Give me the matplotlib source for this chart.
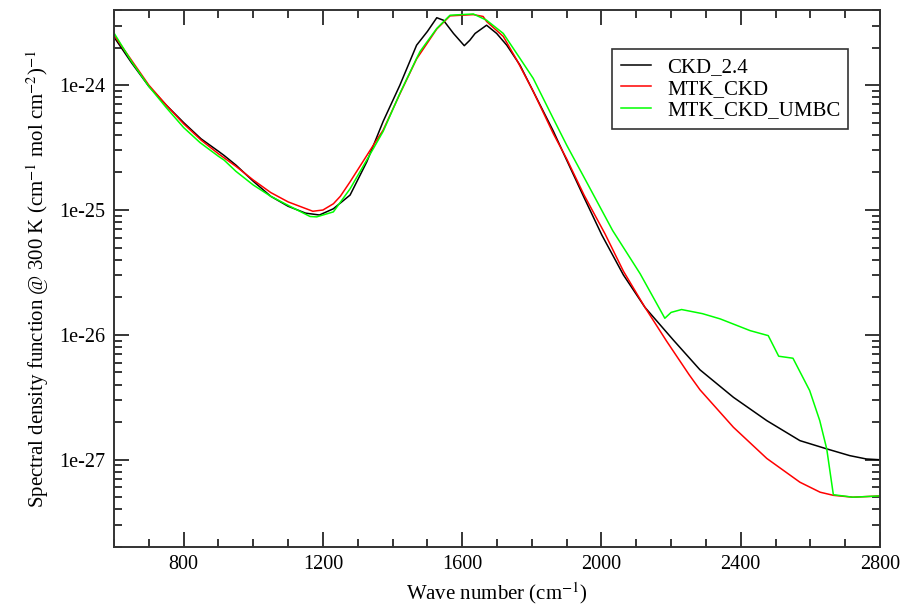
import numpy as np
import matplotlib
matplotlib.use("Agg")
import matplotlib.pyplot as plt
from matplotlib.ticker import FixedLocator, FixedFormatter, MultipleLocator, NullFormatter

plt.rcParams['font.family'] = ['Liberation Serif', 'DejaVu Serif']
plt.rcParams['mathtext.fontset'] = 'stix'

# ---------------- data (log10 of spectral density) ----------------
ckd_wn = [600, 650, 700, 750, 800, 850, 900, 916, 950, 1000, 1050, 1100, 1150, 1190,
          1230, 1278, 1326, 1373, 1421, 1469, 1500, 1527, 1546, 1575, 1606, 1622, 1637,
          1670, 1699, 1728, 1766, 1804, 1862, 1900, 1950, 2001, 2063, 2125, 2206, 2283,
          2379, 2475, 2570, 2647, 2713, 2761, 2800]
ckd_log = [-23.615, -23.82, -24.01, -24.16, -24.30, -24.43, -24.53, -24.563, -24.64,
           -24.77, -24.89, -24.97, -25.025, -25.04, -24.99, -24.88, -24.614, -24.29,
           -24.0, -23.68, -23.57, -23.46, -23.48, -23.586, -23.684, -23.64, -23.586,
           -23.52, -23.586, -23.68, -23.84, -24.05, -24.37, -24.60, -24.90, -25.20,
           -25.52, -25.78, -26.04, -26.28, -26.50, -26.687, -26.847, -26.913, -26.967,
           -26.994, -27.0]

mtk_wn = [600, 650, 700, 750, 800, 850, 900, 950, 1000, 1050, 1100, 1171, 1200, 1230,
          1250, 1278, 1345, 1373, 1421, 1469, 1527, 1565, 1632, 1660, 1670, 1718, 1757,
          1804, 1862, 1900, 1950, 2010, 2063, 2125, 2187, 2252, 2283, 2379, 2475, 2570,
          2628, 2666, 2722, 2800]
mtk_log = [-23.60, -23.80, -24.0, -24.16, -24.31, -24.44, -24.55, -24.65, -24.76,
           -24.86, -24.935, -25.01, -25.0, -24.95, -24.89, -24.774, -24.48, -24.36,
           -24.07, -23.79, -23.55, -23.445, -23.435, -23.45, -23.49, -23.61, -23.80,
           -24.05, -24.39, -24.59, -24.88, -25.19, -25.49, -25.78, -26.05, -26.32,
           -26.44, -26.74, -26.99, -27.18, -27.26, -27.285, -27.30, -27.29]

umbc_wn = [600, 650, 700, 750, 800, 847, 900, 916, 950, 1000, 1050, 1105, 1163, 1182,
           1230, 1278, 1345, 1373, 1421, 1469, 1479, 1527, 1565, 1632, 1670, 1718, 1766,
           1804, 1862, 1900, 1960, 2032, 2111, 2182, 2200, 2230, 2290, 2341, 2427, 2479,
           2509, 2550, 2598, 2627, 2647, 2666, 2722, 2760, 2800]
umbc_log = [-23.583, -23.81, -24.01, -24.18, -24.34, -24.46, -24.57, -24.60, -24.69,
            -24.80, -24.89, -24.97, -25.052, -25.055, -25.015, -24.83, -24.507, -24.37,
            -24.066, -23.786, -23.73, -23.546, -23.44, -23.43, -23.48, -23.586, -23.786,
            -23.946, -24.27, -24.48, -24.79, -25.164, -25.51, -25.867, -25.82, -25.797,
            -25.83, -25.872, -25.966, -26.006, -26.171, -26.187, -26.446, -26.687,
            -26.913, -27.28, -27.30, -27.295, -27.29]

series_labels = ["CKD_2.4", "MTK_CKD", "MTK_CKD_UMBC"]
series_colors = ["#000000", "#ff0000", "#00ff00"]

y_major = [1e-27, 1e-26, 1e-25, 1e-24]
y_major_labels = ["1e-27", "1e-26", "1e-25", "1e-24"]

# ---------------- figure ----------------
fig = plt.figure(figsize=(9.16, 6.08), dpi=100)
ax = fig.add_axes([0.1245, 0.1003, 0.8362, 0.8833])

for wn, lg, lab, col in zip([ckd_wn, mtk_wn, umbc_wn], [ckd_log, mtk_log, umbc_log],
                            series_labels, series_colors):
    ax.plot(wn, 10.0 ** np.array(lg), color=col, lw=1.1, label=lab)

ax.set_yscale('log')
ax.set_xlim(600, 2800)
ax.set_ylim(2e-28, 4e-24)

ax.xaxis.set_major_locator(MultipleLocator(400))
ax.xaxis.set_minor_locator(MultipleLocator(100))
ax.yaxis.set_major_locator(FixedLocator(y_major))
ax.yaxis.set_major_formatter(FixedFormatter(y_major_labels))
minor = [m * 10.0 ** e for e in range(-28, -23) for m in range(2, 10)
         if 2e-28 <= m * 10.0 ** e <= 4e-24]
ax.yaxis.set_minor_locator(FixedLocator(minor))
ax.yaxis.set_minor_formatter(NullFormatter())

ax.tick_params(which='both', direction='in', top=True, right=True, width=1.1,
               labelsize=14.5, pad=6)
ax.tick_params(which='major', length=11)
ax.tick_params(which='minor', length=6)
for s in ax.spines.values():
    s.set_linewidth(1.4)
    s.set_color('#333333')

ax.set_xlabel(r'Wave number (cm$^{-1}$)', fontsize=15, labelpad=4)
ax.set_ylabel(r'Spectral density function @ 300 K (cm$^{-1}$ mol cm$^{-2}$)$^{-1}$',
              fontsize=15, labelpad=6)

leg = ax.legend(loc='upper left', bbox_to_anchor=(0.6505, 0.927), borderaxespad=0,
                fontsize=15, frameon=True, fancybox=False, handlelength=1.45,
                handletextpad=0.77, labelspacing=0.1, borderpad=0.4)
leg.get_frame().set_edgecolor('black')
leg.get_frame().set_linewidth(1.2)

fig.savefig('out.png', dpi=100)
